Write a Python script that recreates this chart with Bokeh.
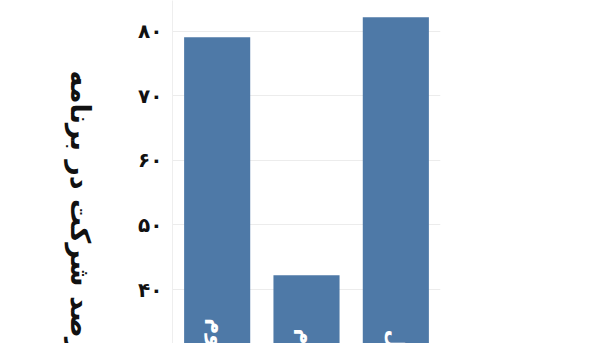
import math
from bokeh.plotting import figure
from bokeh.layouts import row
from bokeh.models import FixedTicker, ColumnDataSource, Range1d, FactorRange
from bokeh.core.properties import value
from bokeh.embed import file_html
from bokeh.resources import INLINE

categories = ["گروه سوم", "گروه دوم", "گروه اول"]
values = [79.1, 42.2, 82.2]
tick_values = [40, 50, 60, 70, 80]
tick_labels = ["۴۰", "۵۰", "۶۰", "۷۰", "۸۰"]
y_label = "درصد شرکت در برنامه"

FONT = "DejaVu Sans"
BAR = "#4e79a7"

y_start, y_end = 31.63, 84.8
yr = Range1d(y_start, y_end)

# left strip holding the rotated axis title
left = figure(width=112, height=343, x_range=Range1d(0, 112), y_range=yr,
              output_backend="svg", toolbar_location=None,
              x_axis_location=None, y_axis_location=None,
              min_border_left=0, min_border_right=0,
              min_border_top=0, min_border_bottom=0)
left.outline_line_color = None
left.grid.grid_line_color = None
left.text(x=[80], y=[73.95], text=[y_label], angle=-math.pi / 2,
          text_align="left", text_baseline="middle",
          text_font=value(FONT), text_font_style="bold",
          text_font_size="27px", text_color="#111111")

p = figure(width=488, height=343,
           x_range=FactorRange(*categories, range_padding=0),
           y_range=yr,
           output_backend="svg", toolbar_location=None,
           x_axis_location=None,
           min_border_left=60, min_border_right=160,
           min_border_top=0, min_border_bottom=0)
p.outline_line_color = None
p.background_fill_color = "white"
p.border_fill_color = "white"

src = ColumnDataSource(dict(cat=categories, val=values,
                            base=[0] * len(categories),
                            ty=[y_start] * len(categories)))
p.vbar(x="cat", top="val", bottom="base", width=0.74, source=src,
       fill_color=BAR, line_color=None)

p.text(x="cat", y="ty", text="cat", source=src, angle=-math.pi / 2,
       text_align="right", text_baseline="middle", y_offset=87,
       text_color="white", text_font=value(FONT), text_font_style="bold",
       text_font_size="22px")

p.xgrid.grid_line_color = None
p.ygrid.grid_line_color = "#ececec"
p.ygrid.ticker = FixedTicker(ticks=tick_values)

ax = p.yaxis[0]
ax.ticker = FixedTicker(ticks=tick_values)
ax.major_label_overrides = {v: t for v, t in zip(tick_values, tick_labels)}
ax.axis_line_color = "#eeeeee"
ax.major_tick_line_color = None
ax.minor_tick_line_color = None
ax.major_tick_out = 0
ax.major_tick_in = 0
ax.major_label_standoff = 10
ax.major_label_text_font = FONT
ax.major_label_text_font_style = "bold"
ax.major_label_text_font_size = "20px"
ax.major_label_text_color = "#111111"

layout = row(left, p, spacing=0)
open("out.html", "w").write(file_html(layout, INLINE))
